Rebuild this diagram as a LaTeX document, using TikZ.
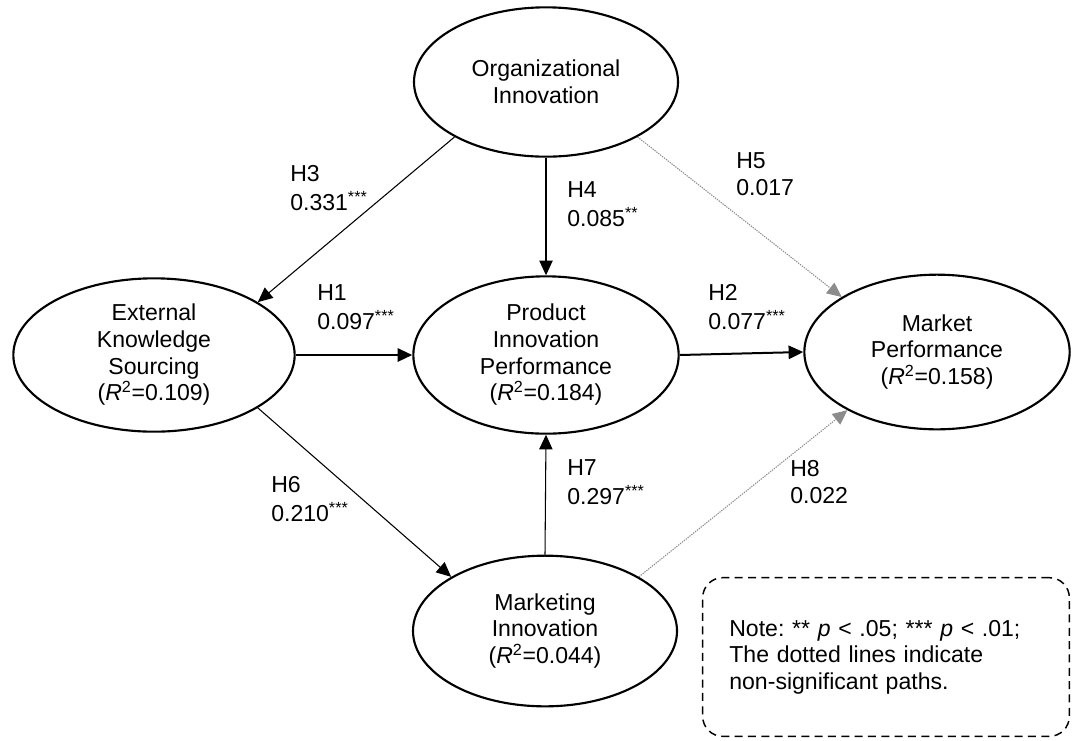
\documentclass[tikz,border=0pt]{standalone}
\usepackage{fontspec}
\setmainfont{Liberation Sans}
\usetikzlibrary{shapes.geometric,arrows.meta}

\newcommand{\stars}[1]{\textsuperscript{#1}}

\begin{document}
\begin{tikzpicture}[x=0.75pt, y=-0.75pt, font=\fontsize{17.3}{20}\selectfont,
		construct/.style={draw, ellipse, line width=1.6pt, inner sep=0pt, align=center},
		sigpath/.style={-{Triangle[length=11pt,width=10pt]}, line width=0.8pt},
		nspath/.style={-{Triangle[length=11pt,width=10pt]}, draw=black!45, line width=0.8pt, dash pattern=on 1pt off 0.8pt},
		coef/.style={align=left, anchor=west, inner sep=0pt}]
		\useasboundingbox (0,0) rectangle (1073,740);

		% Constructs
		\node[construct, minimum width=198pt, minimum height=112pt] (org) at (546,82) {Organizational\\Innovation};
		\node[construct, minimum width=211pt, minimum height=115pt] (eks) at (154,355) {External\\Knowledge\\Sourcing\\(\textit{R}\textsuperscript{2}=0.109)};
		\node[construct, minimum width=199pt, minimum height=118pt] (pip) at (546,355) {Product\\Innovation\\Performance\\(\textit{R}\textsuperscript{2}=0.184)};
		\node[construct, minimum width=199pt, minimum height=116pt] (mp) at (937,352) {Market\\Performance\\(\textit{R}\textsuperscript{2}=0.158)};
		\node[construct, minimum width=198pt, minimum height=113pt] (mi) at (545,631) {Marketing\\Innovation\\(\textit{R}\textsuperscript{2}=0.044)};

		% Paths
		\draw[sigpath] (org.211) -- (eks.27);
		\draw[sigpath] (org.south) -- (pip.north);
		\draw[nspath] (org.329) -- (mp.150);
		\draw[sigpath, line width=1.5pt] (eks.east) -- (pip.west);
		\draw[sigpath, line width=1.5pt] (pip.east) -- (mp.west);
		\draw[sigpath] (eks.333) -- (mi.150);
		\draw[sigpath] (mi.north) -- (pip.south);
		\draw[nspath] (mi.30) -- (mp.213);

		% Coefficients
		\node[coef] (h3) at (290,188) {H3\\[2pt]0.331\stars{***}};
		\node[coef] (h1) at (317,307) {H1\\[2pt]0.097\stars{***}};
		\node[coef] (h4) at (567,204) {H4\\[2pt]0.085\stars{**}};
		\node[coef] (h5) at (736,174) {H5\\0.017};
		\node[coef] (h2) at (708,307) {H2\\[2pt]0.077\stars{***}};
		\node[coef] (h6) at (271,499) {H6\\[2pt]0.210\stars{***}};
		\node[coef] (h7) at (567,482) {H7\\[2pt]0.297\stars{***}};
		\node[coef] (h8) at (790,482) {H8\\0.022};

		% Note
		\node[draw, rounded corners=15pt, line width=1.1pt, dash pattern=on 6pt off 4pt,
			text width=235pt, inner xsep=20pt, minimum height=119pt, align=left] (note) at (886,657)
			{Note:\ ** \textit{p} < .05; *** \textit{p} < .01;\\The dotted lines indicate\\non-significant paths.};
	\end{tikzpicture}
\end{document}
